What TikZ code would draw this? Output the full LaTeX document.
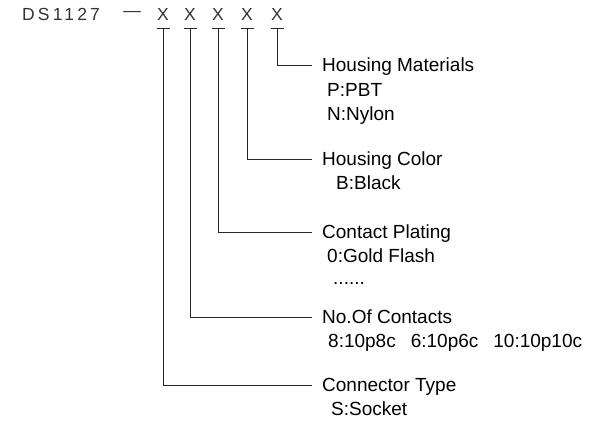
\documentclass[tikz,border=0pt]{standalone}
\usepackage{fontspec}
\setmainfont{Liberation Sans}
\usepackage{tikz}
\usetikzlibrary{positioning,calc}
\tikzset{
  lbl/.style={anchor=west, inner sep=0pt, text height=13.6pt, text depth=0pt,
              font=\fontsize{19}{22}\selectfont},
  hdr/.style={inner sep=0pt, text=black!80, font=\fontsize{17.5}{20}\selectfont},
  lead/.style={line width=0.9pt, black!85},
}

\begin{document}
\begin{tikzpicture}[x=1pt,y=-1pt]
\useasboundingbox (0,0) rectangle (608,422);
% part number header
\node[hdr, anchor=west] (pn) at (22,14) {\addfontfeature{LetterSpace=18}DS1127};
\node[hdr] (dash) at (132,14) {—};
\foreach \i/\xx in {1/163,2/190,3/218,4/247,5/277}{
  \node[hdr] (x\i) at (\xx,14) {X};
}
% field labels
\node[lbl] (hm) at (322,65) {Housing Materials};
\node[lbl] (hm1) at (327,90) {P:PBT};
\node[lbl] (hm2) at (327,114) {N:Nylon};
\node[lbl] (hc) at (322,159) {Housing Color};
\node[lbl] (hc1) at (336,183) {B:Black};
\node[lbl] (cp) at (322,232) {Contact Plating};
\node[lbl] (cp1) at (327,256) {0:Gold Flash};
\node[lbl] (cp2) at (333,278) {......};
\node[lbl] (nc) at (322,317) {No.Of Contacts};
\node[lbl] (nc1) at (328,341) {8:10p8c\hspace{15pt}6:10p6c\hspace{15pt}10:10p10c};
\node[lbl] (ct) at (322,385) {Connector Type};
\node[lbl] (ct1) at (331,409) {S:Socket};
% leaders
\foreach \i/\n in {1/ct,2/nc,3/cp,4/hc,5/hm}{
  \draw[lead] ([xshift=-6.5pt,yshift=-8pt]x\i.south) -- ++(13,0);
  \draw[lead] ([yshift=-8pt]x\i.south) |- ([xshift=-10pt]\n.west);
}
\end{tikzpicture}
\end{document}
